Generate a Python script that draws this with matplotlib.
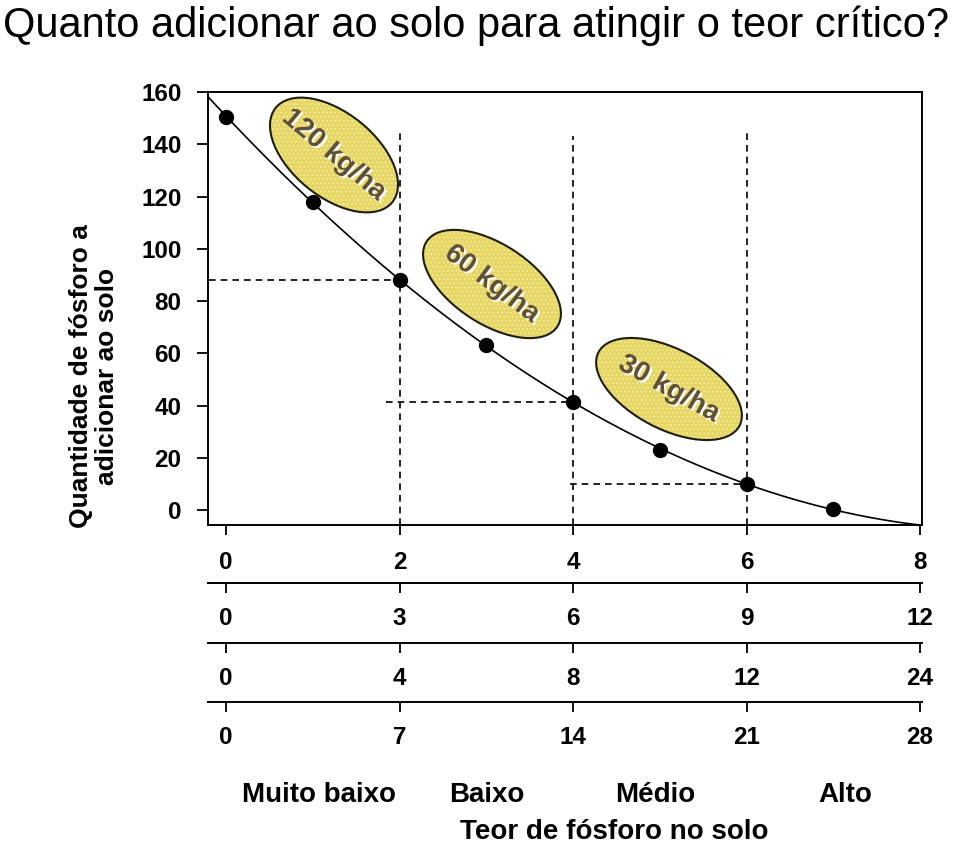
import matplotlib
matplotlib.use('Agg')
import matplotlib.pyplot as plt
import matplotlib.patheffects as pe
from matplotlib.patches import Ellipse
import numpy as np

# ------------ DATA ----------------------------

teor = [0, 1, 2, 3, 4, 5, 6, 7]
dose = [150.5, 118, 88, 63, 41.5, 23, 10, 0.3]

y_ticks = [0, 20, 40, 60, 80, 100, 120, 140, 160]
x_pos = [0, 2, 4, 6, 8]
row_labels = [
    ['0', '2', '4', '6', '8'],
    ['0', '3', '6', '9', '12'],
    ['0', '4', '8', '12', '24'],
    ['0', '7', '14', '21', '28'],
]
classes = ['Muito baixo', 'Baixo', 'Médio', 'Alto']
doses_txt = ['120 kg/ha', '60 kg/ha', '30 kg/ha']

# critical levels: (x, y, top of vertical guide, start of horizontal guide)
crit_x = [2, 4, 6]
crit_y = [88, 41.5, 10]
guide_top = [145.5, 143.2, 144.3]
guide_start = [-0.2, 1.84, 3.97]

# ------------ LAYOUT ----------------------------

W, H = 960, 847
XLIM = (-0.2075, 8.023)
YLIM = (-5.74, 160)

bold = dict(family=['Liberation Sans', 'DejaVu Sans'], weight='bold')

fig = plt.figure(figsize=(W / 100, H / 100), dpi=100)


def fx(x):
    return x / W


def fy(y):
    return 1 - y / H


ax = fig.add_axes([fx(208), fy(525), fx(922) - fx(208), fy(92) - fy(525)])
ax.set_xlim(*XLIM)
ax.set_ylim(*YLIM)

# fitted curve (quadratic through the points)
coef = np.polyfit(teor, dose, 2)
xc = np.linspace(XLIM[0], XLIM[1], 300)
ax.plot(xc, np.polyval(coef, xc), color='black', lw=1.2, zorder=2)
ax.plot(teor, dose, 'o', color='black', ms=10, zorder=3)

for x, y, top, x0 in zip(crit_x, crit_y, guide_top, guide_start):
    ax.plot([x, x], [YLIM[0], top], color='black', lw=1.2, dashes=(4, 3), zorder=1)
    ax.plot([x0, x], [y, y], color='black', lw=1.2, dashes=(4, 3), zorder=1)

for s in ax.spines.values():
    s.set_linewidth(1.4)

ax.set_yticks(y_ticks)
ax.set_yticklabels([str(v) for v in y_ticks], fontsize=17.5, **bold)
ax.set_xticks(x_pos)
ax.set_xticklabels(row_labels[0], fontsize=17.5, **bold)
ax.tick_params(axis='y', direction='out', length=8, width=1.3, pad=11)
ax.tick_params(axis='x', direction='out', length=7, width=1.3, pad=12)

# extra scales under the axis
for yl, labels in zip([583, 643, 702], row_labels[1:]):
    rax = fig.add_axes([fx(208), fy(yl), fx(922) - fx(208), 0.0001])
    rax.set_facecolor('none')
    rax.set_xlim(*XLIM)
    for side in ['top', 'left', 'right']:
        rax.spines[side].set_visible(False)
    rax.spines['bottom'].set_linewidth(1.4)
    rax.set_yticks([])
    rax.set_xticks(x_pos)
    rax.set_xticklabels(labels, fontsize=17.5, **bold)
    rax.tick_params(axis='x', direction='out', length=7, width=1.3, pad=10.5)

# ellipse labels (pixel centre, width, height, angle, text angle)
ell_cx = [334, 492, 669]
ell_cy = [155, 284, 389]
ell_w = [150, 156, 159]
ell_h = [84, 80, 80]
ell_ang = [-39, -33, -27.5]
txt_ang = [-40, -37, -29]

plt.rcParams['hatch.linewidth'] = 0.6
for t, cx, cy, w, h, a, ta in zip(doses_txt, ell_cx, ell_cy, ell_w, ell_h, ell_ang, txt_ang):
    centre = (cx / 100, (H - cy) / 100)
    fig.add_artist(Ellipse(centre, w / 100, h / 100, angle=a, transform=fig.dpi_scale_trans,
                           facecolor='#E6D764', edgecolor='#F6EEB4', hatch='....',
                           lw=0, zorder=5))
    fig.add_artist(Ellipse(centre, w / 100, h / 100, angle=a, transform=fig.dpi_scale_trans,
                           facecolor='none', edgecolor='#1e1e10', lw=1.5, zorder=5.5))
    fig.text(fx(cx), fy(cy), t, rotation=ta, rotation_mode='anchor',
             ha='center', va='center', fontsize=20, color='#5F5038', zorder=6,
             path_effects=[pe.withSimplePatchShadow(offset=(1.5, -1.5),
                                                    shadow_rgbFace='white', alpha=0.9)],
             **bold)

# texts
fig.text(fx(3), fy(37), 'Quanto adicionar ao solo para atingir o teor crítico?',
         fontsize=30, family=['Liberation Sans', 'DejaVu Sans'], va='baseline', ha='left')
fig.text(fx(94), fy(376), 'Quantidade de fósforo a\nadicionar ao solo', rotation=90,
         ha='center', va='center', multialignment='center', fontsize=19,
         linespacing=1.15, **bold)

for name, cx in zip(classes, [319, 487, 655, 845]):
    fig.text(fx(cx), fy(795), name, ha='center', va='center', fontsize=20, **bold)
fig.text(fx(614), fy(832), 'Teor de fósforo no solo', ha='center', va='center',
         fontsize=20, **bold)

fig.savefig('out.png', dpi=100)
